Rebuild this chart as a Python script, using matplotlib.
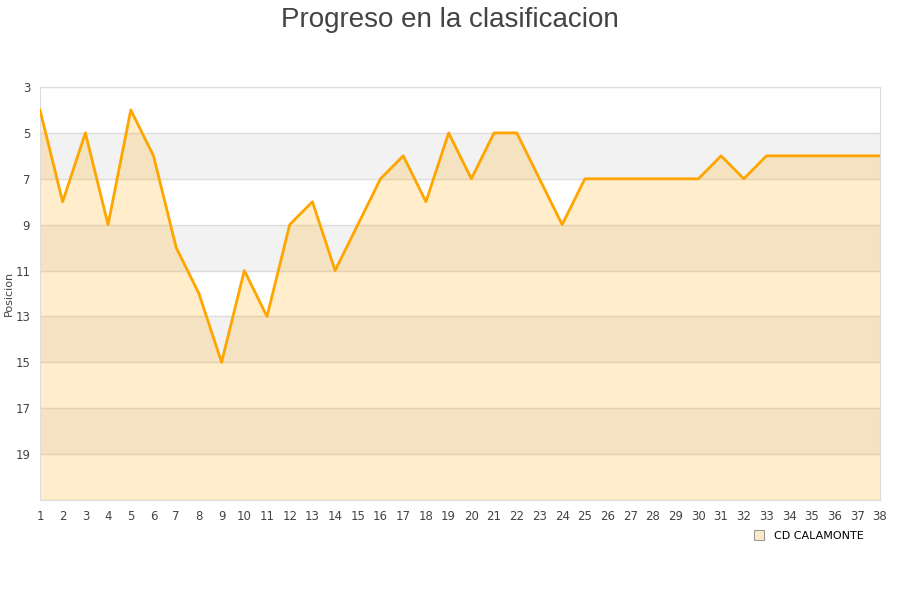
import matplotlib
matplotlib.use('Agg')
import matplotlib.pyplot as plt
from matplotlib.lines import Line2D

# Datos: jornada y posicion
jornadas = list(range(1, 39))
posiciones = [4, 8, 5, 9, 4, 6, 10, 12, 15, 11, 13, 9, 8, 11, 9, 7, 6, 8, 5, 7,
              5, 5, 7, 9, 7, 7, 7, 7, 7, 7, 6, 7, 6, 6, 6, 6, 6, 6]
equipo = 'CD CALAMONTE'
y_ticks = list(range(3, 20, 2))

fig = plt.figure(figsize=(9, 6), dpi=100)
ax = fig.add_axes([0.0444, 0.1667, 0.9334, 0.6883])

# Bandas alternas del fondo
for lo in range(5, 21, 4):
    ax.axhspan(lo, lo + 2, color='#f2f2f2', zorder=0, lw=0)

for y in range(3, 22, 2):
    ax.axhline(y, color='#dddddd', lw=1, zorder=1)

ax.fill_between(jornadas, posiciones, 21, color='#ffa500', alpha=0.2, lw=0, zorder=2)
ax.plot(jornadas, posiciones, color='#ffa500', lw=2, zorder=3)

ax.set_xlim(1, 38)
ax.set_ylim(21, 3)
ax.set_xticks(jornadas)
ax.set_yticks(y_ticks)
ax.tick_params(axis='both', length=0, labelsize=8.5, colors='#444444')
ax.tick_params(axis='x', pad=7)
ax.tick_params(axis='y', pad=7)
for s in ax.spines.values():
    s.set_color('#dddddd')

ax.set_ylabel('Posicion', fontsize=8, color='#444444', labelpad=1)

fig.text(0.5, 0.988, 'Progreso en la clasificacion', ha='center', va='top',
         fontsize=20, color='#444444', family='Liberation Sans')

handle = Line2D([], [], marker='s', linestyle='none', markersize=7,
                markerfacecolor='#fde9c8', markeredgecolor='#999999', markeredgewidth=0.8)
fig.legend([handle], [equipo], loc='center left', bbox_to_anchor=(0.82, 0.107),
           frameon=False, fontsize=8, handletextpad=0.3, labelcolor='black')

fig.savefig('out.png', dpi=100)
